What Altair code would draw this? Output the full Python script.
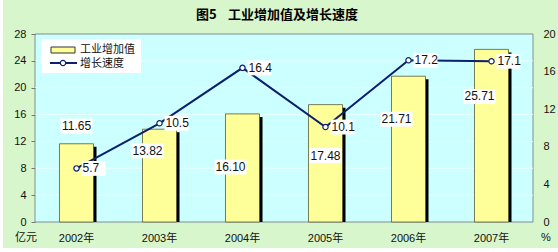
import altair as alt
import pandas as pd

# ---- data ----
years = ["2002年", "2003年", "2004年", "2005年", "2006年", "2007年"]
value_added = [11.65, 13.82, 16.10, 17.48, 21.71, 25.71]   # 亿元
growth = [5.7, 10.5, 16.4, 10.1, 17.2, 17.1]              # %
left_ticks = [0, 4, 8, 12, 16, 20, 24, 28]
right_ticks = [0, 4, 8, 12, 16, 20]
# where each bar's value label sits (in 亿元 units) and whether it is nudged left
bar_label_at = [14.3, 10.6, 8.2, 9.9, 15.3, 18.7]
bar_label_left = [False, True, True, False, True, True]

W, H = 498, 188
FONT = "Liberation Sans, Noto Sans CJK SC"
CJK = "Noto Sans CJK SC"
GREEN = "#d8f6cc"
CYAN = "#ccffff"
NAVY = "#0d1f6e"

df = pd.DataFrame({
    "year": years,
    "va": value_added,
    "g": growth,
    "lab_y": bar_label_at,
    "left": bar_label_left,
})
df["va_txt"] = [f"{v:.2f}" for v in value_added]
df["g_txt"] = [f"{v:.1f}" for v in growth]
grid_df = pd.DataFrame({"t": left_ticks[1:-1]})
one = pd.DataFrame({"k": [0]})

x_axis = alt.Axis(labelAngle=0, ticks=False, domain=False, labelPadding=10, grid=False,
                  labelFont=FONT, labelFontSize=11, labelColor="#111", zindex=1)
left_axis = alt.Axis(values=left_ticks, orient="left", domain=False, grid=False,
                     tickSize=4, tickColor="#777", labelPadding=5, labelFont=FONT,
                     labelFontSize=11, labelColor="#111", zindex=1)
right_axis = alt.Axis(values=right_ticks, orient="right", domain=False, grid=False,
                      ticks=False, labelPadding=10, labelFont=FONT, labelFontSize=11,
                      labelColor="#111", zindex=1)
xscale = alt.Scale(domain=years, paddingInner=0.59, paddingOuter=0.295)
lscale = alt.Scale(domain=[0, 28], nice=False)
rscale = alt.Scale(domain=[0, 20], nice=False)


def X():
    return alt.X("year:N", sort=years, title=None, scale=xscale, axis=x_axis)


def YL(f):
    return alt.Y(f, scale=lscale, title=None, axis=left_axis)


def YR(f):
    return alt.Y(f, scale=rscale, title=None, axis=right_axis)


# ---- decoration ----
green_bg = alt.Chart(one).mark_rect(fill=GREEN).encode(
    x=alt.value(-32), x2=alt.value(W + 25), y=alt.value(-34), y2=alt.value(H + 26))
plot_bg = alt.Chart(one).mark_rect(fill=CYAN, stroke="#7f8f8f", strokeWidth=1).encode(
    x=alt.value(0), x2=alt.value(W), y=alt.value(0), y2=alt.value(H))
title1 = alt.Chart(one).mark_text(text="图5", font=CJK, fontSize=13, fontWeight="bold",
                                  align="left", baseline="middle", color="#000").encode(
    x=alt.value(161), y=alt.value(-19))
title2 = alt.Chart(one).mark_text(text="工业增加值及增长速度", font=CJK, fontSize=13,
                                  fontWeight="bold", align="left", baseline="middle",
                                  color="#000").encode(x=alt.value(193), y=alt.value(-19))
unit_l = alt.Chart(one).mark_text(text="亿元", font=CJK, fontSize=11, color="#111",
                                  baseline="middle").encode(x=alt.value(-9), y=alt.value(204))
unit_r = alt.Chart(one).mark_text(text="%", font=FONT, fontSize=11, color="#111",
                                  baseline="middle").encode(x=alt.value(511), y=alt.value(204))

# ---- left-scale group: gridlines, bars, bar labels ----
grid = alt.Chart(grid_df).mark_rule(color="#eaffff", strokeWidth=1).encode(
    y=YL("t:Q"), x=alt.value(0), x2=alt.value(W))
shadow = alt.Chart(df).mark_bar(color="#000", xOffset=3, yOffset=3, y2Offset=0).encode(
    x=X(), y=YL("va:Q"), y2=alt.Y2(datum=0))
bars = alt.Chart(df).mark_bar(fill="#ffff99", stroke="#5a5a30", strokeWidth=0.8).encode(
    x=X(), y=YL("va:Q"))
box_path = "M-1,-0.47L1,-0.47L1,0.47L-1,0.47Z"


def bar_labels(nudged, dx):
    base = alt.Chart(df).transform_filter(
        alt.datum.left if nudged else ~alt.datum.left)
    box = base.mark_point(shape=box_path, size=1024, filled=True, fill="white",
                          opacity=1, strokeWidth=0, xOffset=dx).encode(
        x=X(), y=YL("lab_y:Q"))
    txt = base.mark_text(font=FONT, fontSize=12, color="#111", dx=dx, baseline="middle").encode(
        x=X(), y=YL("lab_y:Q"), text="va_txt:N")
    return box + txt


left_group = alt.layer(grid, shadow, bars, bar_labels(False, 0), bar_labels(True, -12))

# ---- right-scale group: growth line ----
line = alt.Chart(df).mark_line(color=NAVY, strokeWidth=2).encode(x=X(), y=YR("g:Q"))
g_box = alt.Chart(df).mark_point(shape="M-1,-0.62L1,-0.62L1,0.62L-1,0.62Z", size=576,
                                 filled=True, fill="white", opacity=1, strokeWidth=0,
                                 xOffset=17).encode(x=X(), y=YR("g:Q"))
g_txt = alt.Chart(df).mark_text(font=FONT, fontSize=12, color="#111", align="left", dx=6,
                                baseline="middle").encode(x=X(), y=YR("g:Q"), text="g_txt:N")
pts = alt.Chart(df).mark_point(shape="circle", size=28, filled=True, fill="white",
                               stroke=NAVY, strokeWidth=1.2, opacity=1).encode(
    x=X(), y=YR("g:Q"))
right_group = alt.layer(line, g_box, g_txt, pts)

# ---- legend ----
leg_box = alt.Chart(one).mark_rect(fill="white").encode(
    x=alt.value(6), x2=alt.value(106), y=alt.value(5), y2=alt.value(39))
leg_sw = alt.Chart(one).mark_rect(fill="#ffff99", stroke="#333", strokeWidth=1).encode(
    x=alt.value(16), x2=alt.value(40), y=alt.value(13), y2=alt.value(19))
leg_t1 = alt.Chart(one).mark_text(text="工业增加值", font=CJK, fontSize=11, align="left",
                                  baseline="middle", color="#111").encode(
    x=alt.value(45), y=alt.value(15.5))
leg_ln = alt.Chart(one).mark_rule(color=NAVY, strokeWidth=2).encode(
    x=alt.value(15), x2=alt.value(42), y=alt.value(29))
leg_pt = alt.Chart(one).mark_point(shape="circle", size=28, filled=True, fill="white",
                                   stroke=NAVY, strokeWidth=1.2, opacity=1).encode(
    x=alt.value(28), y=alt.value(29))
leg_t2 = alt.Chart(one).mark_text(text="增长速度", font=CJK, fontSize=11, align="left",
                                  baseline="middle", color="#111").encode(
    x=alt.value(45), y=alt.value(30))

chart = alt.layer(
    green_bg, plot_bg, title1, title2, unit_l, unit_r,
    left_group, right_group,
    leg_box, leg_sw, leg_t1, leg_ln, leg_pt, leg_t2,
).resolve_scale(y="independent").properties(
    width=W, height=H,
    autosize=alt.AutoSizeParams(type="none"),
    padding={"left": 35, "top": 34, "right": 25, "bottom": 30},
    background="white",
).configure_view(stroke=None)

chart.save("out.html", embed_options={"renderer": "svg", "actions": False})
